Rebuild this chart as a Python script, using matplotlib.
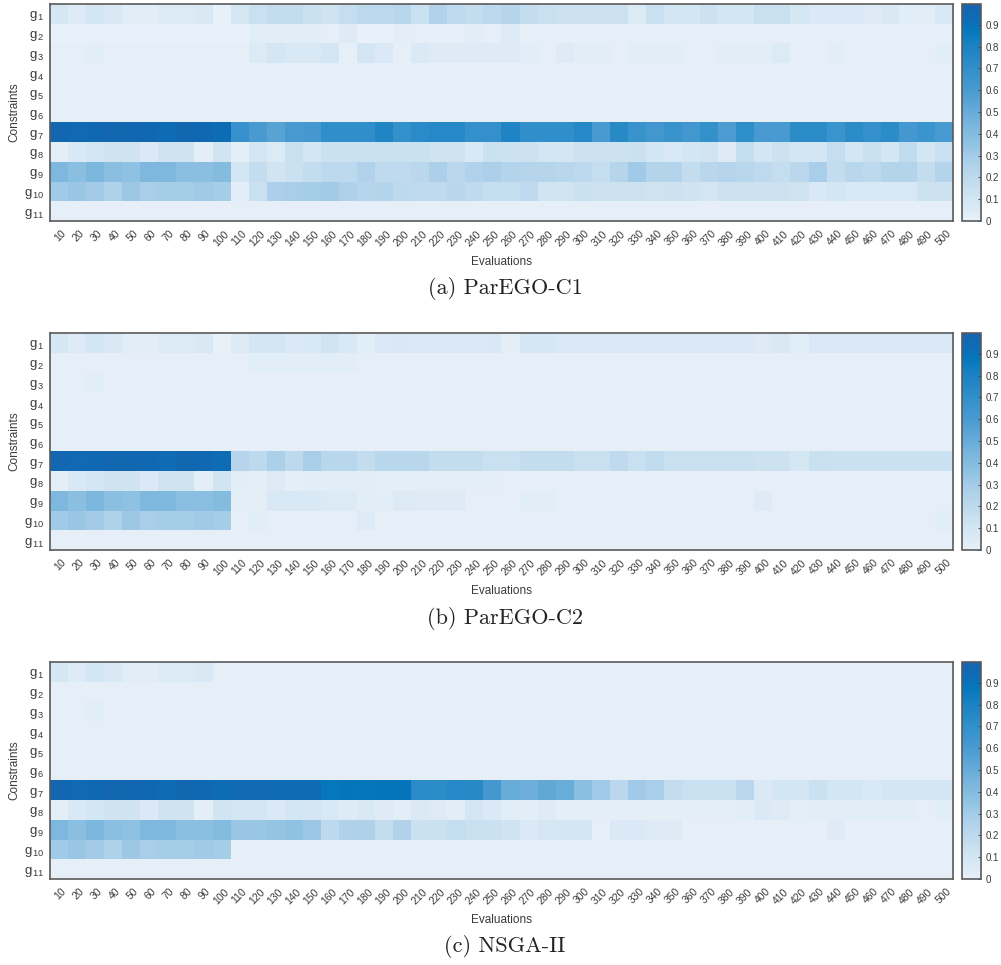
import numpy as np
import matplotlib.pyplot as plt
import matplotlib.transforms as mtransforms
from matplotlib.colors import LinearSegmentedColormap

plt.rcParams['font.family'] = ['Liberation Sans', 'DejaVu Sans']
plt.rcParams['mathtext.fontset'] = 'custom'
plt.rcParams['mathtext.rm'] = 'Liberation Sans'
plt.rcParams['mathtext.it'] = 'Liberation Sans'
plt.rcParams['mathtext.default'] = 'regular'

evaluations = [str(e) for e in range(10, 501, 10)]
constraints = ['g$_{\\,%d}$' % i for i in range(1, 12)]
captions = ['(a) ParEGO-C1', '(b) ParEGO-C2', '(c) NSGA-II']

flat = [0.01] * 50

# violation frequency per constraint, one row per g_i, one column per 10 evaluations
parego_c1 = [
    [0.08, 0.04, 0.10, 0.07, 0.03, 0.03, 0.05, 0.05, 0.07, 0.00,
     0.08, 0.15, 0.17, 0.17, 0.14, 0.12, 0.16, 0.20, 0.20, 0.22,
     0.15, 0.25, 0.19, 0.17, 0.20, 0.23, 0.17, 0.15, 0.13, 0.13,
     0.13, 0.13, 0.05, 0.15, 0.10, 0.10, 0.13, 0.10, 0.10, 0.15,
     0.15, 0.08, 0.06, 0.06, 0.06, 0.04, 0.07, 0.03, 0.03, 0.07],
    [0.00, 0.00, 0.00, 0.00, 0.00, 0.00, 0.00, 0.00, 0.00, 0.00,
     0.00, 0.03, 0.03, 0.03, 0.03, 0.01, 0.04, 0.00, 0.00, 0.02,
     0.01, 0.01, 0.01, 0.03, 0.01, 0.04, 0.01, 0.01, 0.01, 0.01,
     0.01, 0.01, 0.01, 0.01, 0.01, 0.01, 0.01, 0.01, 0.01, 0.01,
     0.01, 0.01, 0.01, 0.01, 0.01, 0.01, 0.01, 0.01, 0.01, 0.01],
    [0.01, 0.01, 0.03, 0.01, 0.01, 0.01, 0.01, 0.01, 0.01, 0.01,
     0.01, 0.05, 0.09, 0.07, 0.07, 0.09, 0.01, 0.09, 0.06, 0.01,
     0.06, 0.04, 0.04, 0.04, 0.04, 0.04, 0.03, 0.01, 0.04, 0.03,
     0.03, 0.01, 0.03, 0.03, 0.03, 0.01, 0.01, 0.03, 0.03, 0.03,
     0.05, 0.01, 0.01, 0.03, 0.01, 0.01, 0.01, 0.01, 0.01, 0.03],
    flat,
    flat,
    flat,
    [0.97, 0.95, 0.96, 0.97, 0.97, 0.96, 0.94, 0.97, 0.96, 0.93,
     0.68, 0.60, 0.55, 0.61, 0.62, 0.70, 0.70, 0.70, 0.77, 0.69,
     0.73, 0.75, 0.75, 0.69, 0.69, 0.78, 0.70, 0.70, 0.70, 0.75,
     0.60, 0.74, 0.67, 0.63, 0.67, 0.63, 0.69, 0.59, 0.71, 0.61,
     0.60, 0.72, 0.72, 0.66, 0.72, 0.69, 0.72, 0.62, 0.66, 0.60],
    [0.02, 0.07, 0.10, 0.12, 0.12, 0.06, 0.12, 0.12, 0.02, 0.11,
     0.02, 0.09, 0.05, 0.15, 0.10, 0.14, 0.14, 0.14, 0.14, 0.14,
     0.14, 0.12, 0.12, 0.07, 0.14, 0.13, 0.13, 0.10, 0.09, 0.13,
     0.13, 0.13, 0.14, 0.10, 0.07, 0.10, 0.11, 0.04, 0.16, 0.10,
     0.13, 0.10, 0.10, 0.16, 0.10, 0.15, 0.10, 0.18, 0.10, 0.15],
    [0.42, 0.37, 0.43, 0.37, 0.36, 0.42, 0.42, 0.37, 0.37, 0.40,
     0.10, 0.17, 0.11, 0.14, 0.17, 0.20, 0.20, 0.25, 0.19, 0.19,
     0.21, 0.27, 0.21, 0.25, 0.27, 0.24, 0.23, 0.23, 0.22, 0.20,
     0.16, 0.23, 0.31, 0.24, 0.24, 0.17, 0.22, 0.23, 0.22, 0.19,
     0.16, 0.21, 0.28, 0.17, 0.22, 0.20, 0.24, 0.24, 0.17, 0.24],
    [0.31, 0.33, 0.30, 0.26, 0.32, 0.28, 0.29, 0.29, 0.31, 0.29,
     0.03, 0.15, 0.27, 0.28, 0.29, 0.30, 0.26, 0.23, 0.24, 0.20,
     0.19, 0.19, 0.22, 0.19, 0.16, 0.16, 0.19, 0.11, 0.11, 0.14,
     0.13, 0.13, 0.13, 0.12, 0.13, 0.12, 0.09, 0.13, 0.13, 0.13,
     0.13, 0.12, 0.07, 0.10, 0.07, 0.07, 0.07, 0.07, 0.13, 0.13],
    flat,
]

parego_c2 = [
    [0.08, 0.04, 0.10, 0.07, 0.03, 0.03, 0.05, 0.05, 0.07, 0.00,
     0.04, 0.09, 0.09, 0.06, 0.07, 0.11, 0.07, 0.03, 0.06, 0.07,
     0.06, 0.06, 0.06, 0.06, 0.07, 0.02, 0.08, 0.08, 0.06, 0.06,
     0.06, 0.06, 0.06, 0.06, 0.06, 0.06, 0.06, 0.06, 0.06, 0.04,
     0.07, 0.03, 0.06, 0.06, 0.06, 0.06, 0.06, 0.06, 0.06, 0.06],
    [0.01, 0.01, 0.01, 0.01, 0.01, 0.01, 0.01, 0.01, 0.01, 0.01,
     0.01, 0.03, 0.03, 0.03, 0.03, 0.03, 0.03, 0.01, 0.01, 0.01,
     0.01, 0.01, 0.01, 0.01, 0.01, 0.01, 0.01, 0.01, 0.01, 0.01,
     0.01, 0.01, 0.01, 0.01, 0.01, 0.01, 0.01, 0.01, 0.01, 0.01,
     0.01, 0.01, 0.01, 0.01, 0.01, 0.01, 0.01, 0.01, 0.01, 0.01],
    [0.01, 0.01, 0.03, 0.01, 0.01, 0.01, 0.01, 0.01, 0.01, 0.01,
     0.01, 0.01, 0.01, 0.01, 0.01, 0.01, 0.01, 0.01, 0.01, 0.01,
     0.01, 0.01, 0.01, 0.01, 0.01, 0.01, 0.01, 0.01, 0.01, 0.01,
     0.01, 0.01, 0.01, 0.01, 0.01, 0.01, 0.01, 0.01, 0.01, 0.01,
     0.01, 0.01, 0.01, 0.01, 0.01, 0.01, 0.01, 0.01, 0.01, 0.01],
    flat,
    flat,
    flat,
    [0.97, 0.95, 0.96, 0.97, 0.97, 0.96, 0.94, 0.97, 0.96, 0.93,
     0.23, 0.20, 0.27, 0.20, 0.28, 0.22, 0.22, 0.17, 0.22, 0.22,
     0.22, 0.17, 0.17, 0.17, 0.15, 0.15, 0.17, 0.17, 0.17, 0.15,
     0.15, 0.19, 0.15, 0.18, 0.15, 0.15, 0.15, 0.15, 0.15, 0.13,
     0.13, 0.08, 0.15, 0.14, 0.14, 0.14, 0.14, 0.14, 0.14, 0.14],
    [0.02, 0.07, 0.10, 0.12, 0.12, 0.06, 0.12, 0.12, 0.02, 0.11,
     0.03, 0.02, 0.04, 0.02, 0.03, 0.03, 0.03, 0.03, 0.02, 0.02,
     0.02, 0.02, 0.02, 0.02, 0.02, 0.01, 0.01, 0.01, 0.01, 0.01,
     0.01, 0.01, 0.01, 0.01, 0.01, 0.01, 0.01, 0.01, 0.01, 0.01,
     0.01, 0.01, 0.01, 0.01, 0.01, 0.01, 0.01, 0.01, 0.01, 0.01],
    [0.42, 0.37, 0.43, 0.37, 0.36, 0.42, 0.42, 0.37, 0.37, 0.40,
     0.02, 0.02, 0.07, 0.07, 0.07, 0.05, 0.05, 0.03, 0.03, 0.05,
     0.04, 0.04, 0.04, 0.01, 0.01, 0.01, 0.03, 0.03, 0.01, 0.01,
     0.01, 0.01, 0.01, 0.01, 0.01, 0.01, 0.01, 0.01, 0.01, 0.04,
     0.01, 0.01, 0.01, 0.01, 0.01, 0.01, 0.01, 0.01, 0.01, 0.01],
    [0.31, 0.33, 0.30, 0.26, 0.32, 0.28, 0.29, 0.29, 0.31, 0.29,
     0.01, 0.03, 0.01, 0.01, 0.01, 0.01, 0.01, 0.04, 0.01, 0.01,
     0.01, 0.01, 0.01, 0.01, 0.01, 0.01, 0.01, 0.01, 0.01, 0.01,
     0.01, 0.01, 0.01, 0.01, 0.01, 0.01, 0.01, 0.01, 0.01, 0.01,
     0.01, 0.01, 0.01, 0.01, 0.01, 0.01, 0.01, 0.01, 0.01, 0.03],
    flat,
]

nsga2 = [
    [0.08, 0.04, 0.10, 0.07, 0.03, 0.03, 0.05, 0.05, 0.07, 0.01,
     0.01, 0.01, 0.01, 0.01, 0.01, 0.01, 0.01, 0.01, 0.01, 0.01,
     0.01, 0.01, 0.01, 0.01, 0.01, 0.01, 0.01, 0.01, 0.01, 0.01,
     0.01, 0.01, 0.01, 0.01, 0.01, 0.01, 0.01, 0.01, 0.01, 0.01,
     0.01, 0.01, 0.01, 0.01, 0.01, 0.01, 0.01, 0.01, 0.01, 0.01],
    flat,
    [0.01, 0.01, 0.03, 0.01, 0.01, 0.01, 0.01, 0.01, 0.01, 0.01,
     0.01, 0.01, 0.01, 0.01, 0.01, 0.01, 0.01, 0.01, 0.01, 0.01,
     0.01, 0.01, 0.01, 0.01, 0.01, 0.01, 0.01, 0.01, 0.01, 0.01,
     0.01, 0.01, 0.01, 0.01, 0.01, 0.01, 0.01, 0.01, 0.01, 0.01,
     0.01, 0.01, 0.01, 0.01, 0.01, 0.01, 0.01, 0.01, 0.01, 0.01],
    flat,
    flat,
    flat,
    [0.97, 0.95, 0.96, 0.97, 0.97, 0.96, 0.94, 0.97, 0.96, 0.93,
     0.95, 0.95, 0.94, 0.94, 0.94, 0.87, 0.89, 0.88, 0.89, 0.89,
     0.73, 0.72, 0.75, 0.74, 0.62, 0.50, 0.48, 0.52, 0.49, 0.37,
     0.31, 0.21, 0.31, 0.28, 0.17, 0.15, 0.15, 0.15, 0.21, 0.06,
     0.10, 0.10, 0.14, 0.10, 0.10, 0.07, 0.09, 0.09, 0.09, 0.09],
    [0.02, 0.07, 0.10, 0.12, 0.12, 0.06, 0.12, 0.12, 0.02, 0.11,
     0.09, 0.09, 0.06, 0.10, 0.09, 0.07, 0.04, 0.07, 0.04, 0.03,
     0.06, 0.04, 0.03, 0.09, 0.06, 0.03, 0.03, 0.04, 0.02, 0.02,
     0.02, 0.02, 0.02, 0.02, 0.02, 0.02, 0.02, 0.02, 0.03, 0.06,
     0.04, 0.02, 0.03, 0.03, 0.03, 0.03, 0.03, 0.03, 0.01, 0.03],
    [0.42, 0.37, 0.43, 0.37, 0.36, 0.42, 0.42, 0.37, 0.37, 0.40,
     0.33, 0.33, 0.34, 0.36, 0.32, 0.20, 0.26, 0.26, 0.17, 0.25,
     0.14, 0.14, 0.16, 0.15, 0.14, 0.12, 0.06, 0.08, 0.09, 0.09,
     0.01, 0.06, 0.06, 0.04, 0.04, 0.01, 0.01, 0.01, 0.01, 0.01,
     0.01, 0.01, 0.01, 0.04, 0.01, 0.01, 0.01, 0.01, 0.01, 0.01],
    [0.31, 0.33, 0.30, 0.26, 0.32, 0.28, 0.29, 0.29, 0.31, 0.29,
     0.01, 0.01, 0.01, 0.01, 0.01, 0.01, 0.01, 0.01, 0.01, 0.01,
     0.01, 0.01, 0.01, 0.01, 0.01, 0.01, 0.01, 0.01, 0.01, 0.01,
     0.01, 0.01, 0.01, 0.01, 0.01, 0.01, 0.01, 0.01, 0.01, 0.01,
     0.01, 0.01, 0.01, 0.01, 0.01, 0.01, 0.01, 0.01, 0.01, 0.01],
    flat,
]

# light-to-dark blue map
cmap = LinearSegmentedColormap.from_list('blues', [
    (0.00, '#e8f1f9'), (0.05, '#dceaf6'), (0.10, '#d3e6f3'),
    (0.15, '#c8e0f0'), (0.20, '#bdd9ee'), (0.25, '#b2d3eb'),
    (0.30, '#a4cce8'), (0.35, '#92c3e3'), (0.40, '#84bce0'),
    (0.45, '#78b5dd'), (0.50, '#68acd9'), (0.60, '#4a9bd1'),
    (0.70, '#3290cb'), (0.75, '#2789c7'), (0.80, '#1d83c3'),
    (0.88, '#0478bd'), (0.93, '#0e6db6'), (1.00, '#1664af')])

W, H = 1001, 965
text_col = '#3a3a3a'
edge_col = '#5a5a5a'


def rect(x0, y0, x1, y1):
    return [x0 / W, 1 - y1 / H, (x1 - x0) / W, (y1 - y0) / H]


fig = plt.figure(figsize=(W / 100, H / 100), dpi=100)

tops = [4, 333, 662]
for data, caption, top in zip([parego_c1, parego_c2, nsga2], captions, tops):
    bottom = top + 217
    ax = fig.add_axes(rect(50, top, 953, bottom))
    im = ax.imshow(np.array(data), cmap=cmap, vmin=0, vmax=0.995,
                   aspect='auto', interpolation='nearest')
    ax.set_xlim(-0.5, len(evaluations) - 0.5)
    # labels hang off a point a bit right of each column centre
    ax.set_xticks(np.arange(len(evaluations)) + 0.3)
    ax.set_xticklabels(evaluations, rotation=45, ha='right', va='center',
                       rotation_mode='anchor', fontsize=7.5, color=text_col)
    ax.set_yticks(range(len(constraints)))
    ax.set_yticklabels(constraints, fontsize=9.5, color=text_col)
    ax.tick_params(length=0, axis='x', pad=8)
    ax.tick_params(length=0, axis='y', pad=4)
    for s in ax.spines.values():
        s.set_color(edge_col)
        s.set_linewidth(1.2)

    cax = fig.add_axes(rect(962, top, 981, bottom))
    cb = fig.colorbar(im, cax=cax, ticks=np.arange(0, 10) / 10)
    cb.ax.set_yticklabels(['0'] + ['%.1f' % (t / 10) for t in range(1, 10)])
    cb.ax.tick_params(labelsize=7, colors=text_col, direction='in', length=2,
                      width=0.6, pad=3)
    cb.outline.set_edgecolor(edge_col)
    cb.outline.set_linewidth(1.2)

    fig.text(501 / W, 1 - (bottom + 41) / H, 'Evaluations', ha='center',
             va='center', fontsize=8.5, color=text_col)
    fig.text(14 / W, 1 - (top + 108) / H, 'Constraints', rotation=90,
             ha='center', va='center', fontsize=8.5, color=text_col)
    fig.text(505 / W, 1 - (bottom + 68) / H, caption, ha='center',
             va='center', family='cmr10', fontsize=16, color='#222222')

fig.savefig('out.png', dpi=100)
